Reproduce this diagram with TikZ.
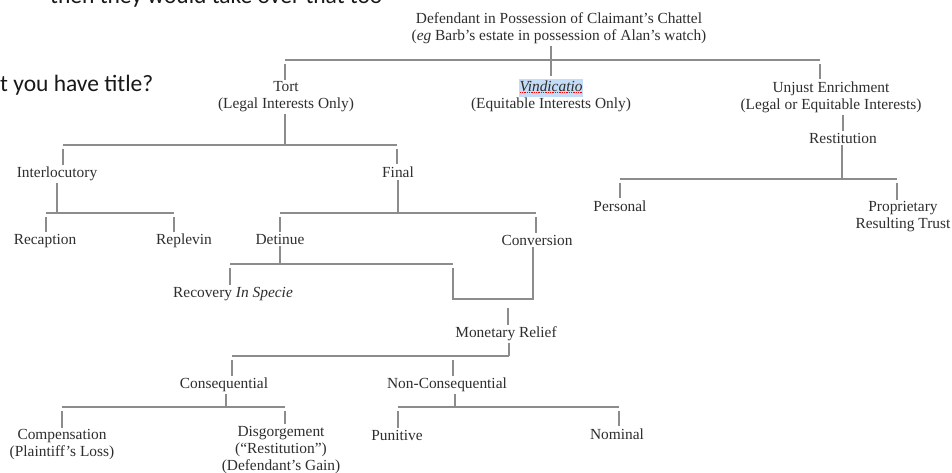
\documentclass[tikz,border=0pt]{standalone}
\usepackage{fontspec}
\setmainfont{Liberation Serif}
\newfontfamily\slidefont{Carlito}
\definecolor{inkgray}{HTML}{2E2E2E}
\definecolor{linegray}{HTML}{8C8C8C}
\definecolor{hilite}{HTML}{C4DCF6}
\setlength{\fboxsep}{0.5pt}
\newsavebox{\squigbox}
\newcommand{\squig}[1]{\sbox{\squigbox}{#1}\rlap{\raisebox{-2.2pt}{\hbox to\wd\squigbox{\color{red}\xleaders\hbox{\rule{1.4pt}{0.9pt}\kern0.9pt}\hfill}}}\usebox{\squigbox}}

\begin{document}
\begin{tikzpicture}[x=1pt, y=-1pt,
  every node/.style={font=\fontsize{15.4}{17}\selectfont, text=inkgray, inner sep=2pt, align=center},
  slide/.style={font=\slidefont\fontsize{23.5}{28}\selectfont, text=black!90, inner sep=0pt, anchor=base west},
  link/.style={draw=linegray, line width=1.5pt},
  kid/.style={link, shorten <=4pt}]
\useasboundingbox[fill=white] (0,0) rectangle (952,473);

% slide text behind the chart
\node[slide] (note1) at (50,4) {then they would take over that too};
\node[slide] (note2) at (0,92) {t you have title?};

% top level
\node (root) at (559,28) {Defendant in Possession of Claimant's Chattel\\(\textit{eg} Barb's estate in possession of Alan's watch)};
\node (tort) at (286,97) {Tort\\(Legal Interests Only)};
\node (vind) at (551,95) {\colorbox{hilite}{\strut\squig{\textit{Vindicatio}}}\\(Equitable Interests Only)};
\node (unjust) at (831,97) {Unjust Enrichment\\(Legal or Equitable Interests)};

% unjust enrichment
\node (resti) at (843,138) {Restitution};
\node (personal) at (620,206) {Personal};
\node (propr) at (903,217) {Proprietary\\Resulting Trust};

% tort
\node (interloc) at (57,174) {Interlocutory};
\node (final) at (398,172) {Final};
\node (recap) at (45,241) {Recaption};
\node (replevin) at (184,241) {Replevin};
\node (detinue) at (280,239) {Detinue};
\node (conv) at (537,240) {Conversion};
\node (recovery) at (233,294) {Recovery \textit{In Specie}};
\node (money) at (506,334) {Monetary Relief};
\node (cons) at (224,385) {Consequential};
\node (noncons) at (447,385) {Non-Consequential};
\node (comp) at (62,445) {Compensation\\(Plaintiff's Loss)};
\node (disg) at (281,450) {Disgorgement\\(``Restitution'')\\(Defendant's Gain)};
\node (punitive) at (397,435) {Punitive};
\node (nominal) at (617,434) {Nominal};

% bars
\coordinate (b0l) at (285,60);
\coordinate (b0j) at (551,60);
\coordinate (b0r) at (820,60);
\coordinate (b1l) at (63,145);
\coordinate (b1j) at (285,145);
\coordinate (b1r) at (397,145);
\coordinate (b2l) at (46,213);
\coordinate (b2j) at (57,213);
\coordinate (b2r) at (174,213);
\coordinate (b3l) at (280,213);
\coordinate (b3j) at (398,213);
\coordinate (b3r) at (536,213);
\coordinate (b4l) at (230,264);
\coordinate (b4j) at (280,264);
\coordinate (b4r) at (453,264);
\coordinate (b5l) at (453,299);
\coordinate (b5j) at (508,299);
\coordinate (b5r) at (533,299);
\coordinate (b6l) at (232,356);
\coordinate (b6m) at (453,356);
\coordinate (b6j) at (509,356);
\coordinate (b7l) at (62,407);
\coordinate (b7j) at (226,407);
\coordinate (b7r) at (285,407);
\coordinate (b8l) at (398,407);
\coordinate (b8j) at (455,407);
\coordinate (b8r) at (619,407);
\coordinate (b9l) at (620,179);
\coordinate (b9j) at (842,179);
\coordinate (b9r) at (897,179);

\draw[link] (root.south -| b0j) -- (b0j);
\draw[link] (b0l) -- (b0r);
\draw[kid] (b0l) -- (b0l |- tort.north);
\draw[link] (b0j) -- (b0j |- vind.north);
\draw[kid] (b0r) -- (b0r |- unjust.north);

\draw[link] (unjust.south -| resti) -- (resti.north);
\draw[link] (resti.south -| b9j) -- (b9j);
\draw[link] (b9l) -- (b9r);
\draw[kid] (b9l) -- (b9l |- personal.north);
\draw[kid] (b9r) -- (b9r |- propr.north);

\draw[link] (tort.south -| b1j) -- (b1j);
\draw[link] (b1l) -- (b1r);
\draw[kid] (b1l) -- (b1l |- interloc.north);
\draw[kid] (b1r) -- (b1r |- final.north);

\draw[link] (interloc.south -| b2j) -- (b2j);
\draw[link] (b2l) -- (b2r);
\draw[kid] (b2l) -- (b2l |- recap.north);
\draw[kid] (b2r) -- (b2r |- replevin.north);

\draw[link] (final.south -| b3j) -- (b3j);
\draw[link] (b3l) -- (b3r);
\draw[kid] (b3l) -- (b3l |- detinue.north);
\draw[kid] (b3r) -- (b3r |- conv.north);

\draw[link] (detinue.south -| b4j) -- (b4j);
\draw[link] (b4l) -- (b4r);
\draw[kid] (b4l) -- (b4l |- recovery.north);
\draw[kid] (b4r) -- (b5l) -- (b5r) -- (b5r |- conv.south);
\draw[link, shorten <=9pt] (b5j) -- (b5j |- money.north);

\draw[link] (money.south -| b6j) -- (b6j);
\draw[link] (b6l) -- (b6j);
\draw[kid] (b6l) -- (b6l |- cons.north);
\draw[kid] (b6m) -- (b6m |- noncons.north);

\draw[link] (cons.south -| b7j) -- (b7j);
\draw[link] (b7l) -- (b7r);
\draw[kid] (b7l) -- (b7l |- comp.north);
\draw[kid] (b7r) -- (b7r |- disg.north);

\draw[link] (noncons.south -| b8j) -- (b8j);
\draw[link] (b8l) -- (b8r);
\draw[kid] (b8l) -- (b8l |- punitive.north);
\draw[kid] (b8r) -- (b8r |- nominal.north);
\end{tikzpicture}
\end{document}
